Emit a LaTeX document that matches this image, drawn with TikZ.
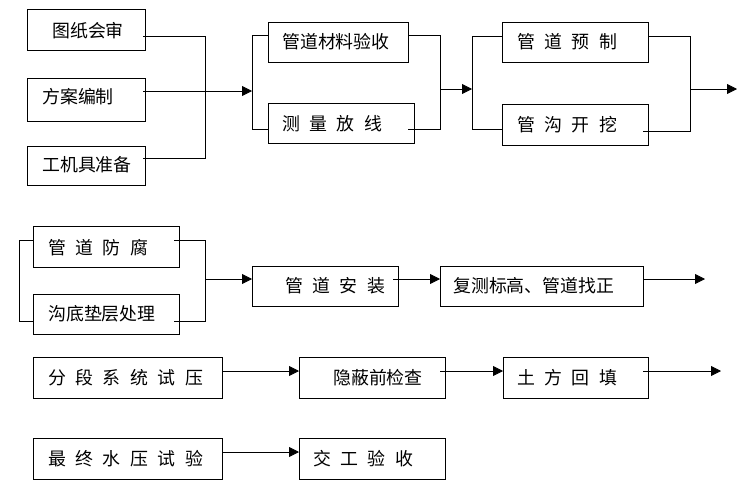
\documentclass[tikz,border=0pt]{standalone}
\usepackage{fontspec}
\setmainfont{Noto Sans CJK SC}
\usetikzlibrary{arrows.meta}
\newcommand\gapx{\hspace{9.5pt}}
\begin{document}
\begin{tikzpicture}[x=1pt,y=-1pt,
  box/.style={draw,line width=0.9pt,inner sep=0pt,outer sep=0pt},
  lbl/.style={anchor=west,inner sep=0pt,font=\fontsize{17.9}{20}\selectfont},
  conn/.style={line width=0.8pt},
  arr/.style={line width=0.8pt,-{Triangle[length=10pt,width=10pt]}}]
\fill[white] (0,0) rectangle (748,493);
\useasboundingbox (0,0) rectangle (748,493);
% boxes
\node[box,minimum width=118pt,minimum height=41pt] (A) at (86,29.5) {};
\node[box,minimum width=118pt,minimum height=43pt] (B) at (86,99.5) {};
\node[box,minimum width=118pt,minimum height=39pt] (C) at (86,165.5) {};
\node[box,minimum width=140pt,minimum height=40pt] (D) at (338,42) {};
\node[box,minimum width=146pt,minimum height=40pt] (E) at (341,123) {};
\node[box,minimum width=146pt,minimum height=40pt] (F) at (575,42) {};
\node[box,minimum width=146pt,minimum height=41pt] (G) at (575,124.5) {};
\node[box,minimum width=146pt,minimum height=41pt] (H) at (106,246.5) {};
\node[box,minimum width=146pt,minimum height=40pt] (I) at (106,314) {};
\node[box,minimum width=146pt,minimum height=40pt] (J) at (325,286) {};
\node[box,minimum width=203pt,minimum height=40pt] (K) at (541.5,286) {};
\node[box,minimum width=189pt,minimum height=41pt] (L) at (127.5,377.5) {};
\node[box,minimum width=146pt,minimum height=41pt] (M) at (372,377.5) {};
\node[box,minimum width=145pt,minimum height=41pt] (N) at (575.5,377.5) {};
\node[box,minimum width=189pt,minimum height=41pt] (O) at (127.5,458.5) {};
\node[box,minimum width=146pt,minimum height=41pt] (P) at (372,458.5) {};
% labels
\node[lbl] (tA) at (52,31) {图纸会审};
\node[lbl] (tB) at (42,97) {方案编制};
\node[lbl] (tC) at (42,165) {工机具准备};
\node[lbl] (tD) at (282,42) {管道材料验收};
\node[lbl] (tE) at (282,123.5) {测\gapx 量\gapx 放\gapx 线};
\node[lbl] (tF) at (517,42) {管\gapx 道\gapx 预\gapx 制};
\node[lbl] (tG) at (517,125) {管\gapx 沟\gapx 开\gapx 挖};
\node[lbl] (tH) at (48,247.5) {管\gapx 道\gapx 防\gapx 腐};
\node[lbl] (tI) at (48,314) {沟底垫层处理};
\node[lbl] (tJ) at (285,285.5) {管\gapx 道\gapx 安\gapx 装};
\node[lbl] (tK) at (453,285.5) {复测标高、管道找正};
\node[lbl] (tL) at (48,377.5) {分\gapx 段\gapx 系\gapx 统\gapx 试\gapx 压};
\node[lbl] (tM) at (333,377.5) {隐蔽前检查};
\node[lbl] (tN) at (517,377.5) {土\gapx 方\gapx 回\gapx 填};
\node[lbl] (tO) at (48,458.5) {最\gapx 终\gapx 水\gapx 压\gapx 试\gapx 验};
\node[lbl] (tP) at (313,458.5) {交\gapx 工\gapx 验\gapx 收};
% joints
\coordinate (j1) at (205,36);
\coordinate (j2) at (205,158);
\coordinate (k0) at (252,91);
\coordinate (k1) at (252,35);
\coordinate (k2) at (252,129);
\coordinate (m0) at (440,89);
\coordinate (m1) at (440,35);
\coordinate (m2) at (440,129);
\coordinate (n0) at (472,89);
\coordinate (n1) at (472,36);
\coordinate (n2) at (472,129);
\coordinate (p0) at (690,89);
\coordinate (p1) at (690,36);
\coordinate (p2) at (690,131);
\coordinate (q0) at (737,89);
\coordinate (r1) at (19,240);
\coordinate (r2) at (19,321);
\coordinate (s0) at (205,279);
\coordinate (s1) at (205,240);
\coordinate (s2) at (205,321);
\coordinate (t0) at (705,279);
\coordinate (u0) at (0,371);
\coordinate (v0) at (721,371);
\coordinate (w0) at (0,452);
% group 1
\draw[conn] ([xshift=-2pt]A.east |- j1) -- (j1) -- (j2) -- ([xshift=-2pt]C.east |- j2);
\draw[arr] ([xshift=-2pt]B.east |- k0) -- (k0);
\draw[conn] (D.west |- k1) -- (k1) -- (k2) -- (E.west |- k2);
\draw[conn] (D.east |- m1) -- (m1) -- (m2) -- ([xshift=-6pt]E.east |- m2);
\draw[arr] (m0) -- (n0);
\draw[conn] (F.west |- n1) -- (n1) -- (n2) -- (G.west |- n2);
\draw[conn] (F.east |- p1) -- (p1) -- (p2) -- ([xshift=-5pt]G.east |- p2);
\draw[arr] (p0) -- (q0);
% group 2
\draw[conn] (H.west |- r1) -- (r1) -- (r2) -- (I.west |- r2);
\draw[conn] ([xshift=-5pt]H.east |- s1) -- (s1) -- (s2) -- ([xshift=-5pt]I.east |- s2);
\draw[arr] (s0) -- (J.west |- s0);
\draw[arr] ([xshift=-5pt]J.east |- s0) -- (K.west |- s0);
\draw[arr] (K.east |- s0) -- (t0);
% row 3
\draw[arr] (L.east |- u0) -- (M.west |- u0);
\draw[arr] ([xshift=-5pt]M.east |- u0) -- (N.west |- u0);
\draw[arr] ([xshift=-5pt]N.east |- u0) -- (v0);
% row 4
\draw[arr] (O.east |- w0) -- (P.west |- w0);
\end{tikzpicture}
\end{document}
